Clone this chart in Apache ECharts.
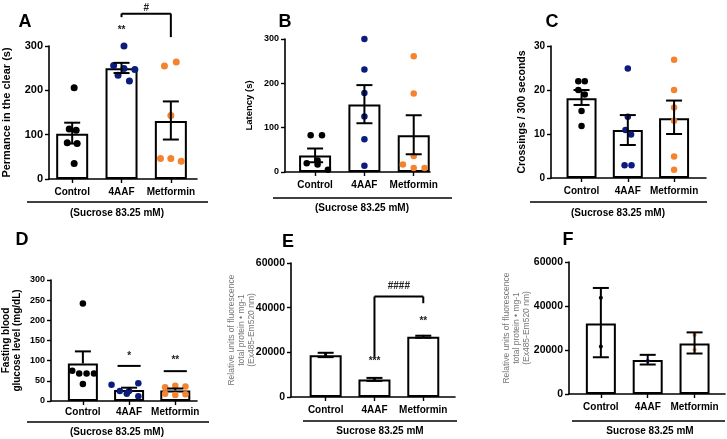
<!DOCTYPE html>
<html>
<head>
<meta charset="utf-8">
<script src="https://cdn.jsdelivr.net/npm/echarts@6/dist/echarts.min.js"></script>
<style>
  html, body { margin: 0; padding: 0; background: #fff; }
  #main { width: 727px; height: 439px; }
</style>
</head>
<body>
<div id="main"></div>
<script>
const groups = ['Control', '4AAF', 'Metformin'];
const dotColors = ['#000000', '#0b1c7c', '#f5822c'];
const FONT = '"Liberation Sans", Arial, sans-serif';

// A - permanence in the clear (s)
const aMean = [102, 250, 131];
const aLow = [80, 239, 89];
const aHigh = [127, 262, 175];
const aCtrl = [206, 113, 110, 82, 80, 35];
const a4aaf = [300, 256, 249, 247, 234, 221];
const aMet = [264, 255, 143, 46, 46, 40];
const aJit = [[0.04, -0.06, 0.08, -0.1, 0.1, 0.04], [0.05, -0.16, 0.05, 0.27, -0.07, 0.16], [0.11, -0.13, 0, -0.21, 0, 0.21]];

// B - latency (s)
const bMean = [37, 152, 83];
const bLow = [22, 110, 40];
const bHigh = [53, 196, 128];
const bCtrl = [83, 83, 26, 20, 17, 5];
const b4aaf = [300, 231, 178, 125, 74, 14];
const bMet = [261, 177, 36, 17, 9, 9];
const bJit = [[-0.09, 0.14, 0.05, -0.17, 0.05, 0.26], [0, 0, 0, 0, 0, 0], [0, 0, 0, -0.22, 0, 0.22]];

// C - crossings / 300 s
const cMean = [18.1, 10.9, 13.6];
const cLow = [16.6, 7.5, 10];
const cHigh = [20, 14.3, 17.6];
const cCtrl = [22, 22, 20, 19, 15.2, 11.8];
const c4aaf = [24.9, 13.9, 10.9, 9.9, 2.9, 2.9];
const cMet = [26.9, 20, 16, 13, 4.9, 1.9];
const cJit = [[-0.07, 0.07, -0.07, 0.07, 0, 0], [0, 0, -0.05, 0.07, -0.07, 0.08], [0, 0, 0, 0, 0, 0]];

// D - fasting blood glucose (mg/dL)
const dMean = [93, 27, 26];
const dLow = [93, 27, 26];
const dHigh = [123, 33, 31];
const dCtrl = [242, 75, 68, 68, 68, 42];
const d4aaf = [40, 25, 25, 44, 12, 18];
const dMet = [34, 38, 36, 18, 15, 17];
const dJit = [[0, -0.23, -0.08, 0.08, 0.24, 0], [-0.38, -0.2, 0, 0.2, 0.2, -0.05], [-0.22, 0, 0.22, -0.22, 0, 0.22]];

// E - fluorescence
const eMean = [18750, 7800, 27000];
const eLow = [17850, 7200, 26550];
const eHigh = [19800, 8550, 27450];
const eCtrl = [19300, 18200];
const e4aaf = [8300, 7900];
const eMet = [27300, 26800];
const eJit = [[0, 0], [0, 0], [0, 0]];

// F - fluorescence
const fMean = [32100, 15400, 22900];
const fLow = [16700, 13400, 18400];
const fHigh = [48200, 17800, 28000];
const fCtrl = [43700, 21600];
const f4aaf = [15000];
const fMet = [26800, 20100];
const fJit = [[0, 0], [0], [0, 0]];

// significance marks: [x, y]
const aStars = [[1, 335], [1.5, 386]];
const aStarText = ['**', '#'];
const aBracket = [[1, 2, 373, 365, 320]];
const dStars = [[1, 111], [2, 101]];
const dStarText = ['*', '**'];
const dBars = [[1, 87], [2, 74]];
const eStars = [[1, 16000], [2, 34000], [1.5, 49500]];
const eStarText = ['***', '**', '####'];
const eBracket = [[1, 2, 45000, 17300, 42000]];

const panels = [
  { grid: { left: 43, top: 46, width: 154, height: 133 }, xr: [-0.47, 2.53], ymax: 300, step: 100,
    name: 'Permance in the clear (s)', nameGap: 37, nameSize: 11, tickSize: 11, labelMargin: 8, barW: 32, dot: 7,
    mean: aMean, low: aLow, high: aHigh, pts: [aCtrl, a4aaf, aMet], jit: aJit },
  { grid: { left: 285, top: 39, width: 145, height: 133 }, xr: [-0.61, 2.33], ymax: 300, step: 100,
    name: 'Latency (s)', nameGap: 30, nameSize: 9.5, tickSize: 9, labelMargin: 8, barW: 32, dot: 6.5,
    mean: bMean, low: bLow, high: bHigh, pts: [bCtrl, b4aaf, bMet], jit: bJit },
  { grid: { left: 551, top: 46, width: 155, height: 132 }, xr: [-0.66, 2.69], ymax: 30, step: 10,
    name: 'Crossings / 300 seconds', nameGap: 23, nameSize: 10.5, tickSize: 10, labelMargin: 8, barW: 30, dot: 6.5,
    mean: cMean, low: cLow, high: cHigh, pts: [cCtrl, c4aaf, cMet], jit: cJit },
  { grid: { left: 43, top: 280, width: 154, height: 121 }, xr: [-0.69, 2.47], ymax: 300, step: 50,
    name: 'Fasting blood\nglucose level (mg/dL)', nameGap: 28, nameSize: 10, tickSize: 9, labelMargin: 6, barW: 30, dot: 6.5,
    mean: dMean, low: dLow, high: dHigh, pts: [dCtrl, d4aaf, dMet], jit: dJit },
  { grid: { left: 291, top: 263, width: 164, height: 134 }, xr: [-0.71, 2.65], ymax: 60000, step: 20000,
    name: 'Relative units of fluorescence\ntotal protein • mg-1\n(Ex485-Em520 nm)', nameGap: 34, nameSize: 8.5, thin: true,
    tickSize: 10.5, labelMargin: 8, barW: 32, dot: 3,
    mean: eMean, low: eLow, high: eHigh, pts: [eCtrl, e4aaf, eMet], jit: eJit },
  { grid: { left: 569, top: 262, width: 156, height: 132 }, xr: [-0.68, 2.65], ymax: 60000, step: 20000,
    name: 'Relative units of fluorescence\ntotal protein • mg-1\n(Ex485-Em520 nm)', nameGap: 37, nameSize: 8.5, thin: true,
    tickSize: 10.5, labelMargin: 8, barW: 30, dot: 4,
    mean: fMean, low: fLow, high: fHigh, pts: [fCtrl, f4aaf, fMet], jit: fJit }
];

const line = (x1, y1, x2, y2, w) => ({ type: 'line', shape: { x1, y1, x2, y2 }, style: { stroke: '#000', lineWidth: w || 2 } });

function errorItem(params, api) {
  const x = api.value(0);
  const m = api.coord([x, api.value(1)]);
  const lo = api.coord([x, api.value(2)]);
  const hi = api.coord([x, api.value(3)]);
  const cap = 8;
  const kids = [line(hi[0], hi[1], lo[0], lo[1]), line(hi[0] - cap, hi[1], hi[0] + cap, hi[1])];
  if (lo[1] - m[1] > 0.5) kids.push(line(lo[0] - cap, lo[1], lo[0] + cap, lo[1]));
  return { type: 'group', children: kids };
}

function bracketItem(params, api) {
  const a = api.coord([api.value(0), api.value(2)]);
  const b = api.coord([api.value(1), api.value(2)]);
  const l = api.coord([api.value(0), api.value(3)]);
  const r = api.coord([api.value(1), api.value(4)]);
  return { type: 'group', children: [line(l[0], l[1], a[0], a[1]), line(a[0], a[1], b[0], b[1]), line(b[0], b[1], r[0], r[1])] };
}

function textSeries(i, pos, texts) {
  return {
    type: 'custom', xAxisIndex: i, yAxisIndex: i, z: 6, silent: true, data: pos,
    renderItem: (params, api) => {
      const p = api.coord([api.value(0), api.value(1)]);
      return { type: 'text', style: { text: texts[params.dataIndex], x: p[0], y: p[1], align: 'center', verticalAlign: 'middle',
        fontSize: 10, fontWeight: 'bold', fontFamily: FONT, fill: '#222' } };
    }
  };
}

const grids = [], xAxes = [], yAxes = [], series = [];
panels.forEach((p, i) => {
  grids.push(p.grid);
  xAxes.push({
    type: 'value', gridIndex: i, min: p.xr[0], max: p.xr[1],
    splitLine: { show: false },
    axisLine: { show: true, onZero: false, lineStyle: { color: '#000', width: 1.6 } },
    axisTick: { show: true, customValues: [0, 1, 2], length: 4, lineStyle: { color: '#000', width: 1.4 } },
    axisLabel: { customValues: [0, 1, 2], formatter: v => groups[Math.round(v)], margin: p.labelMargin,
      color: '#000', fontSize: 10, fontWeight: 'bold', fontFamily: FONT }
  });
  yAxes.push({
    type: 'value', gridIndex: i, min: 0, max: p.ymax, interval: p.step,
    name: p.name, nameLocation: 'middle', nameGap: p.nameGap, nameMoveOverlap: false,
    nameTextStyle: p.thin
      ? { fontSize: p.nameSize, color: '#777', fontFamily: FONT, lineHeight: 10 }
      : { fontSize: p.nameSize, color: '#000', fontWeight: 'bold', fontFamily: FONT, lineHeight: 11 },
    splitLine: { show: false },
    axisLine: { show: true, onZero: false, lineStyle: { color: '#000', width: 1.6 } },
    axisTick: { show: true, length: 4, lineStyle: { color: '#000', width: 1.4 } },
    axisLabel: { formatter: v => String(v), color: '#000', fontSize: p.tickSize, fontWeight: 'bold', fontFamily: FONT, margin: 6 }
  });
  series.push({
    type: 'bar', xAxisIndex: i, yAxisIndex: i, barWidth: p.barW, silent: true, z: 2,
    data: p.mean.map((v, k) => [k, v]),
    itemStyle: { color: '#fff', borderColor: '#000', borderWidth: 2 }
  });
  p.pts.forEach((arr, g) => {
    series.push({
      type: 'scatter', xAxisIndex: i, yAxisIndex: i, symbolSize: p.dot, silent: true, z: 3, clip: false,
      data: arr.map((v, k) => [g + p.jit[g][k], v]),
      itemStyle: { color: dotColors[g], opacity: 1 }
    });
  });
  series.push({
    type: 'custom', xAxisIndex: i, yAxisIndex: i, z: 4, silent: true,
    data: p.mean.map((v, k) => [k, v, p.low[k], p.high[k]]),
    renderItem: errorItem
  });
});

// significance annotations
series.push(textSeries(0, aStars, aStarText));
series.push({ type: 'custom', xAxisIndex: 0, yAxisIndex: 0, z: 5, silent: true, data: aBracket, renderItem: bracketItem });
series.push(textSeries(3, dStars, dStarText));
series.push({
  type: 'custom', xAxisIndex: 3, yAxisIndex: 3, z: 5, silent: true, data: dBars,
  renderItem: (params, api) => {
    const a = api.coord([api.value(0) - 0.25, api.value(1)]);
    const b = api.coord([api.value(0) + 0.25, api.value(1)]);
    return line(a[0], a[1], b[0], b[1]);
  }
});
series.push(textSeries(4, eStars, eStarText));
series.push({ type: 'custom', xAxisIndex: 4, yAxisIndex: 4, z: 5, silent: true, data: eBracket, renderItem: bracketItem });

// panel letters and group underlines
const letters = [['A', 25, 22], ['B', 285, 22], ['C', 552, 22], ['D', 22, 240], ['E', 288, 242], ['F', 568, 240]];
const unders = [
  [27, 208, 202, '(Sucrose 83.25 mM)', 117, 213],
  [273, 452, 198, '(Sucrose 83.25 mM)', 362, 208],
  [530, 707, 202, '(Sucrose 83.25 mM)', 618, 213],
  [27, 209, 422, '(Sucrose 83.25 mM)', 117, 432],
  [303, 457, 421, 'Sucrose 83.25 mM', 380, 431],
  [572, 725, 421, 'Sucrose 83.25 mM', 650, 431]
];
const graphic = [];
letters.forEach(l => graphic.push({
  type: 'text', x: l[1], y: l[2],
  style: { text: l[0], font: 'bold 18px ' + FONT, fill: '#000', align: 'center', verticalAlign: 'middle' }
}));
unders.forEach(u => {
  graphic.push({ type: 'line', shape: { x1: u[0], y1: u[2], x2: u[1], y2: u[2] }, style: { stroke: '#000', lineWidth: 1.6 } });
  graphic.push({ type: 'text', x: u[4], y: u[5],
    style: { text: u[3], font: 'bold 10px ' + FONT, fill: '#000', align: 'center', verticalAlign: 'middle' } });
});

const chart = echarts.init(document.getElementById('main'), null, { renderer: 'canvas' });
chart.setOption({
  animation: false,
  backgroundColor: '#fff',
  grid: grids,
  xAxis: xAxes,
  yAxis: yAxes,
  series: series,
  graphic: graphic
});
</script>
</body>
</html>
